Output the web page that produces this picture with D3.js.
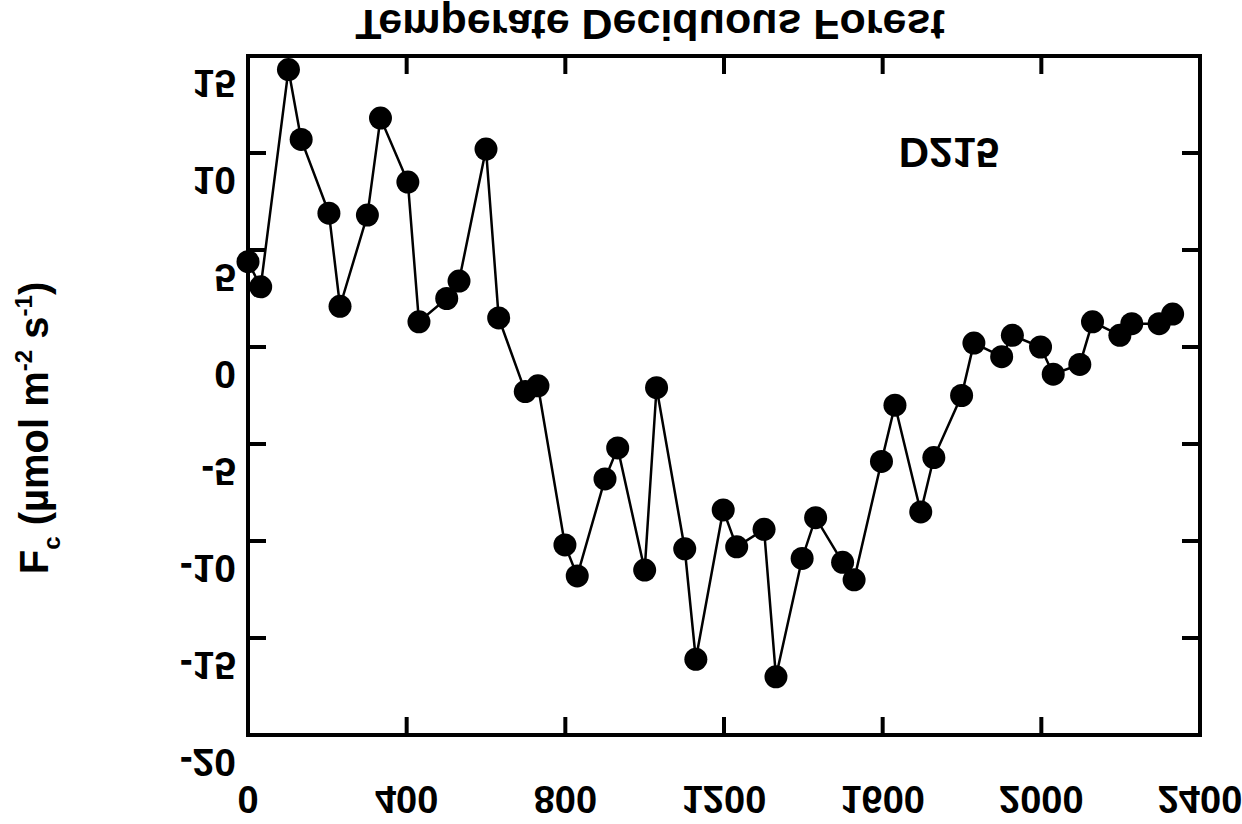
<!DOCTYPE html>
<html>
<head>
<meta charset="utf-8">
<script src="https://cdn.jsdelivr.net/npm/d3@7"></script>
<style>
  body { margin: 0; background: #fff; }
  text { font-family: "Liberation Sans", Arial, sans-serif; font-weight: bold; fill: #000; }
</style>
</head>
<body>
<div id="chart"></div>
<script>
// data
var days = [0, 32, 102, 134, 204, 232, 301, 334, 403, 431, 501, 532, 600, 632, 699, 731,
    799, 830, 900, 932, 1000, 1030, 1101, 1129, 1198, 1232, 1301, 1331, 1397, 1431, 1499, 1528,
    1597, 1631, 1696, 1729, 1799, 1830, 1900, 1927, 1998, 2030, 2097, 2129, 2198, 2228, 2297, 2331];
var fc = [4.4, 3.1, 14.3, 10.7, 6.9, 2.1, 6.8, 11.8, 8.5, 1.3, 2.5, 3.4, 10.2, 1.5, -2.3, -2.0,
    -10.2, -11.8, -6.8, -5.2, -11.5, -2.1, -10.4, -16.1, -8.4, -10.3, -9.4, -17.0, -10.9, -8.8, -11.1, -12.0,
    -5.9, -3.0, -8.5, -5.7, -2.5, 0.2, -0.5, 0.6, 0.0, -1.4, -0.9, 1.3, 0.6, 1.2, 1.2, 1.7];
var xTicks = [0, 400, 800, 1200, 1600, 2000, 2400];
var yTicks = [15, 10, 5, 0, -5, -10, -15, -20];
var title = "Temperate Deciduous Forest";
var siteLabel = "D215";

var W = 1242, H = 824;
var margin = {left: 248, right: 42, top: 56, bottom: 89};
var plotL = margin.left, plotR = W - margin.right,
    plotT = margin.top, plotB = H - margin.bottom;
var tickLen = 18;

var svg = d3.select("#chart").append("svg")
    .attr("width", W)
    .attr("height", H);

var x = d3.scaleLinear().domain([0, 2400]).range([plotL, plotR]);
var y = d3.scaleLinear().domain([-20, 15]).range([plotB, plotT]);

// text in the reference is mirrored top-to-bottom, so flip each label about its centre
function flipText(g, cx, cy, str, size, anchor) {
    return g.append("text")
        .attr("transform", "translate(" + cx + "," + cy + ") scale(1,-1)")
        .attr("text-anchor", anchor || "middle")
        .attr("dominant-baseline", "central")
        .attr("font-size", size + "px")
        .text(str);
}

// line and markers
var line = d3.line()
    .x(function (d, i) { return x(days[i]); })
    .y(function (d) { return y(d); });

svg.append("path")
    .datum(fc)
    .attr("d", line)
    .attr("fill", "none")
    .attr("stroke", "#000")
    .attr("stroke-width", 2.5);

svg.append("g").selectAll("circle")
    .data(fc)
    .enter().append("circle")
    .attr("cx", function (d, i) { return x(days[i]); })
    .attr("cy", function (d) { return y(d); })
    .attr("r", 11.5)
    .attr("fill", "#000");

// frame
var axes = svg.append("g")
    .attr("stroke", "#000")
    .attr("stroke-width", 4)
    .attr("fill", "none");

axes.append("rect")
    .attr("x", plotL).attr("y", plotT)
    .attr("width", plotR - plotL).attr("height", plotB - plotT);

// inward ticks on left / right
axes.selectAll(".ytl")
    .data(yTicks.slice(1, -1))
    .enter().append("line")
    .attr("x1", plotL).attr("x2", plotL + tickLen)
    .attr("y1", function (d) { return y(d); })
    .attr("y2", function (d) { return y(d); });

axes.selectAll(".ytr")
    .data(yTicks.slice(1, -1))
    .enter().append("line")
    .attr("x1", plotR).attr("x2", plotR - tickLen)
    .attr("y1", function (d) { return y(d); })
    .attr("y2", function (d) { return y(d); });

// inward ticks on top / bottom
axes.selectAll(".xtt")
    .data(xTicks.slice(1, -1))
    .enter().append("line")
    .attr("x1", function (d) { return x(d); })
    .attr("x2", function (d) { return x(d); })
    .attr("y1", plotT).attr("y2", plotT + tickLen);

axes.selectAll(".xtb")
    .data(xTicks.slice(1, -1))
    .enter().append("line")
    .attr("x1", function (d) { return x(d); })
    .attr("x2", function (d) { return x(d); })
    .attr("y1", plotB).attr("y2", plotB - tickLen);

// tick labels
var labels = svg.append("g");
yTicks.forEach(function (t) {
    flipText(labels, 236, y(t) + 27, String(t), 39, "end");
});
xTicks.forEach(function (t) {
    flipText(labels, x(t), 799, String(t), 38, "middle");
});

// title and site label
flipText(svg, 650, 25, title, 43, "middle");
flipText(svg, 949, 152, siteLabel, 42, "middle");

// y-axis label
var yl = svg.append("text")
    .attr("transform", "translate(48,428) rotate(-90)")
    .attr("text-anchor", "middle")
    .attr("font-size", "40px");
yl.append("tspan").text("F");
yl.append("tspan").attr("font-size", "24px").attr("dy", 12).text("c");
yl.append("tspan").attr("dy", -12).text(" (\u00b5mol m");
yl.append("tspan").attr("font-size", "24px").attr("dy", -16).text("-2");
yl.append("tspan").attr("dy", 16).text(" s");
yl.append("tspan").attr("font-size", "24px").attr("dy", -16).text("-1");
yl.append("tspan").attr("dy", 16).text(")");
</script>
</body>
</html>
